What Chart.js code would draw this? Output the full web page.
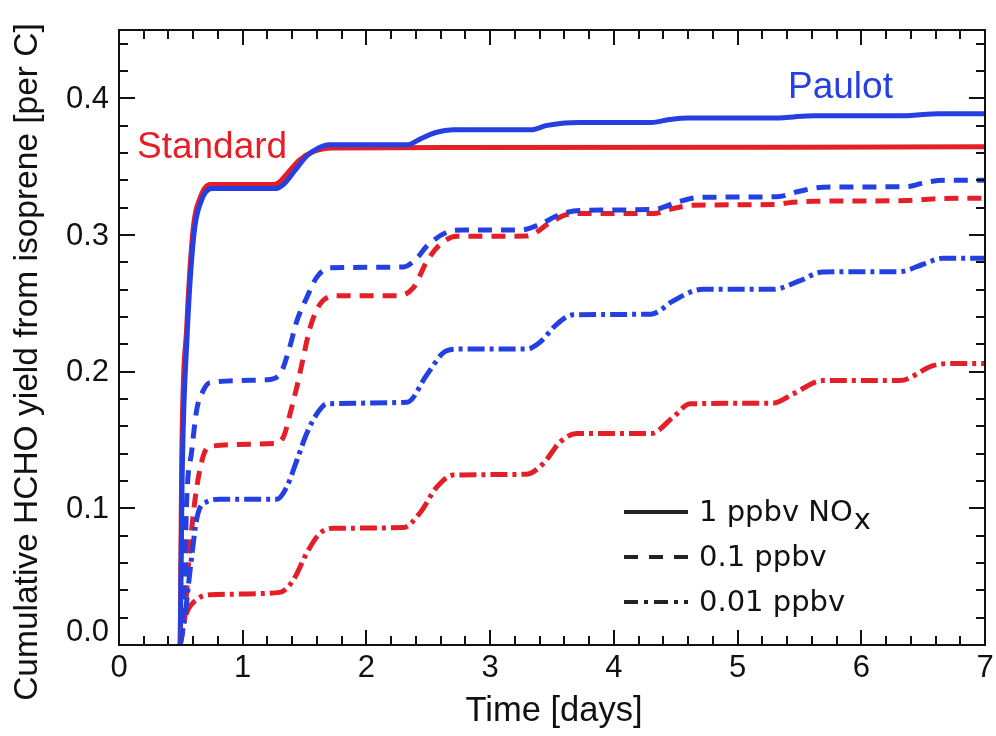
<!DOCTYPE html>
<html>
<head>
<meta charset="utf-8">
<script src="https://cdn.jsdelivr.net/npm/chart.js@4.4.1/dist/chart.umd.min.js"></script>
<style>
  html, body { margin: 0; padding: 0; background: #ffffff; }
  canvas { display: block; }
</style>
</head>
<body>
<canvas id="chart" width="996" height="736"></canvas>
<script>
// Cumulative HCHO yield from isoprene [per C] versus time [days]
// Standard mechanism, 1 ppbv NOx
const std1T = [0.495, 0.507, 0.547, 0.600, 0.655, 0.736, 1.25, 1.30, 1.36, 1.46, 1.57, 1.73, 2.70, 7.00];
const std1Y = [0.000, 0.135, 0.232, 0.305, 0.327, 0.337, 0.337, 0.339, 0.345, 0.355, 0.361, 0.3636, 0.364, 0.3645];
// Paulot mechanism, 1 ppbv NOx
const pau1T = [0.495, 0.510, 0.550, 0.605, 0.665, 0.750, 1.27, 1.33, 1.42, 1.52, 1.62, 1.70, 2.33, 2.43, 2.56, 2.70, 3.33, 3.45, 3.60, 3.72, 4.30, 4.45, 4.60, 5.34, 5.47, 5.62, 6.37, 6.50, 6.62, 7.00];
const pau1Y = [0.000, 0.120, 0.225, 0.300, 0.325, 0.334, 0.334, 0.337, 0.347, 0.358, 0.364, 0.366, 0.366, 0.370, 0.375, 0.377, 0.377, 0.380, 0.3820, 0.3824, 0.3824, 0.3845, 0.3856, 0.3856, 0.3866, 0.3872, 0.3872, 0.3882, 0.3887, 0.3888];
// Paulot mechanism, 0.1 ppbv NOx
const pau01T = [0.495, 0.515, 0.533, 0.547, 0.588, 0.628, 0.680, 0.736, 1.19, 1.30, 1.38, 1.437, 1.517, 1.598, 1.706, 2.30, 2.407, 2.49, 2.65, 2.78, 3.24, 3.40, 3.565, 3.727, 4.32, 4.535, 4.70, 5.317, 5.50, 5.69, 6.37, 6.53, 6.69, 7.00];
const pau01Y = [0.000, 0.021, 0.057, 0.106, 0.142, 0.172, 0.186, 0.192, 0.194, 0.198, 0.218, 0.237, 0.254, 0.269, 0.276, 0.2766, 0.283, 0.292, 0.302, 0.3036, 0.3036, 0.3077, 0.315, 0.318, 0.3187, 0.3247, 0.3276, 0.328, 0.332, 0.335, 0.3354, 0.3388, 0.340, 0.340];
// Standard mechanism, 0.1 ppbv NOx
const std01T = [0.495, 0.533, 0.560, 0.614, 0.680, 0.736, 1.247, 1.328, 1.382, 1.437, 1.49, 1.544, 1.625, 1.76, 2.245, 2.38, 2.49, 2.595, 2.73, 3.296, 3.484, 3.62, 3.727, 4.32, 4.48, 4.64, 5.29, 5.45, 5.61, 6.37, 6.58, 7.00];
const std01Y = [0.000, 0.021, 0.057, 0.106, 0.138, 0.1454, 0.1474, 0.152, 0.169, 0.1886, 0.2105, 0.232, 0.2494, 0.2555, 0.2555, 0.2615, 0.281, 0.293, 0.299, 0.2992, 0.309, 0.315, 0.3157, 0.3157, 0.3194, 0.3218, 0.3223, 0.324, 0.3247, 0.3252, 0.3264, 0.327];
// Paulot mechanism, 0.01 ppbv NOx
const pau001T = [0.495, 0.533, 0.578, 0.632, 0.709, 0.816, 1.275, 1.356, 1.437, 1.517, 1.598, 1.68, 2.33, 2.49, 2.65, 2.78, 3.296, 3.40, 3.54, 3.67, 4.30, 4.48, 4.64, 4.72, 5.29, 5.50, 5.69, 6.31, 6.50, 6.66, 7.00];
const pau001Y = [0.000, 0.021, 0.0574, 0.0939, 0.1048, 0.1066, 0.1066, 0.1157, 0.135, 0.1547, 0.169, 0.1765, 0.1777, 0.198, 0.2154, 0.2166, 0.2166, 0.2214, 0.2348, 0.2416, 0.2421, 0.2518, 0.259, 0.2603, 0.2603, 0.2664, 0.273, 0.2732, 0.2786, 0.283, 0.283];
// Standard mechanism, 0.01 ppbv NOx
const std001T = [0.495, 0.507, 0.547, 0.628, 0.736, 1.30, 1.41, 1.517, 1.625, 1.733, 2.30, 2.43, 2.57, 2.70, 3.296, 3.43, 3.565, 3.70, 4.30, 4.48, 4.617, 5.29, 5.45, 5.69, 6.31, 6.58, 6.72, 7.00];
const std001Y = [0.000, 0.009, 0.0235, 0.0332, 0.0368, 0.0385, 0.0477, 0.0672, 0.0818, 0.0854, 0.0859, 0.0964, 0.1157, 0.1243, 0.125, 0.1328, 0.1485, 0.1547, 0.1547, 0.1668, 0.1765, 0.177, 0.1838, 0.1935, 0.1935, 0.2044, 0.206, 0.206];

// Axis tick labels
const xTickValues = [0, 1, 2, 3, 4, 5, 6, 7];
const yTickValues = [0.0, 0.1, 0.2, 0.3, 0.4];
const yTickLabels = ['0.0', '0.1', '0.2', '0.3', '0.4'];
const legendLabels = ['1 ppbv NO', '0.1 ppbv', '0.01 ppbv'];

const RED = '#e51f28';
const BLUE = '#2540e2';
const DASH = [14, 9];
const DASHDOT = [17, 5, 4, 5];
const SANS = '"Liberation Sans", Arial, Helvetica, sans-serif';

function pts(t, v) { return t.map((x, i) => ({ x: x, y: v[i] })); }

function series(label, t, v, color, dash) {
  return {
    label: label,
    data: pts(t, v),
    borderColor: color,
    borderWidth: 5,
    borderDash: dash,
    borderCapStyle: 'butt',
    pointRadius: 0,
    fill: false,
    cubicInterpolationMode: 'monotone'
  };
}

// Box frame, inward ticks, tick labels, axis titles, curve labels and line-style key
const decorations = {
  id: 'decorations',
  afterDatasetsDraw(chart) {
    const { ctx, chartArea: a, scales: { x, y } } = chart;
    ctx.save();
    ctx.strokeStyle = '#111';
    ctx.lineWidth = 2;
    const seg = (x1, y1, x2, y2) => { ctx.beginPath(); ctx.moveTo(x1, y1); ctx.lineTo(x2, y2); ctx.stroke(); };

    // x ticks every 0.2 day, longer at whole days
    for (let i = 0; i <= 35; i++) {
      const px = Math.round(x.getPixelForValue(i * 0.2));
      const len = (i % 5 === 0) ? 15 : 9;
      seg(px, a.bottom, px, a.bottom - len);
      seg(px, a.top, px, a.top + len);
    }
    // y ticks every 0.02, longer at each 0.1
    for (let i = 0; i <= 22; i++) {
      const py = Math.round(y.getPixelForValue(i * 0.02));
      const len = (i % 5 === 0) ? 16 : 9;
      seg(a.left, py, a.left + len, py);
      seg(a.right, py, a.right - len, py);
    }
    ctx.strokeRect(a.left, a.top, a.right - a.left, a.bottom - a.top);

    // tick labels
    ctx.fillStyle = '#111';
    ctx.font = '31px ' + SANS;
    ctx.textAlign = 'right';
    ctx.textBaseline = 'middle';
    yTickValues.forEach((v, i) => {
      let py = y.getPixelForValue(v) + 1;
      if (i === 0) py -= 14;
      ctx.fillText(yTickLabels[i], a.left - 10, py);
    });
    ctx.textAlign = 'center';
    ctx.textBaseline = 'alphabetic';
    xTickValues.forEach(v => {
      ctx.fillText(String(v), x.getPixelForValue(v), a.bottom + 32);
    });

    // axis titles
    ctx.font = '34.5px ' + SANS;
    ctx.fillText('Time [days]', 554, 721);
    ctx.font = '33.5px ' + SANS;
    ctx.save();
    ctx.translate(37, 362);
    ctx.rotate(-Math.PI / 2);
    ctx.fillText('Cumulative HCHO yield from isoprene [per C]', 0, 0);
    ctx.restore();

    // curve labels
    ctx.font = '37px ' + SANS;
    ctx.textAlign = 'left';
    ctx.fillStyle = RED;
    ctx.fillText('Standard', 137, 158);
    ctx.fillStyle = BLUE;
    ctx.fillText('Paulot', 788, 98);

    // line-style key
    const keyY = [512, 557, 602];
    const keyDash = [[], [14, 11], [14, 6, 4, 6]];
    ctx.strokeStyle = '#222';
    ctx.lineWidth = 4;
    ctx.lineCap = 'butt';
    ctx.fillStyle = '#111';
    ctx.font = '29px "DejaVu Sans", Verdana, sans-serif';
    ctx.textBaseline = 'middle';
    keyY.forEach((ky, i) => {
      ctx.setLineDash(keyDash[i]);
      seg(624, ky, 688, ky);
      ctx.setLineDash([]);
      ctx.fillText(legendLabels[i], 699, ky + 1);
    });
    const w = ctx.measureText(legendLabels[0]).width;
    ctx.fillText('x', 699 + w + 1, keyY[0] + 9);
    ctx.restore();
  }
};

new Chart(document.getElementById('chart'), {
  type: 'line',
  data: {
    datasets: [
      series('Paulot, 0.01 ppbv', pau001T, pau001Y, BLUE, DASHDOT),
      series('Standard, 0.01 ppbv', std001T, std001Y, RED, DASHDOT),
      series('Paulot, 0.1 ppbv', pau01T, pau01Y, BLUE, DASH),
      series('Standard, 0.1 ppbv', std01T, std01Y, RED, DASH),
      series('Paulot, 1 ppbv', pau1T, pau1Y, BLUE, []),
      series('Standard, 1 ppbv', std1T, std1Y, RED, [])
    ]
  },
  options: {
    responsive: false,
    animation: false,
    devicePixelRatio: 1,
    layout: { padding: { left: 119, right: 11, top: 30, bottom: 91 } },
    plugins: { legend: { display: false }, tooltip: { enabled: false } },
    scales: {
      x: { type: 'linear', min: 0, max: 7, display: false },
      y: { type: 'linear', min: 0, max: 0.45, display: false }
    }
  },
  plugins: [decorations]
});
</script>
</body>
</html>
